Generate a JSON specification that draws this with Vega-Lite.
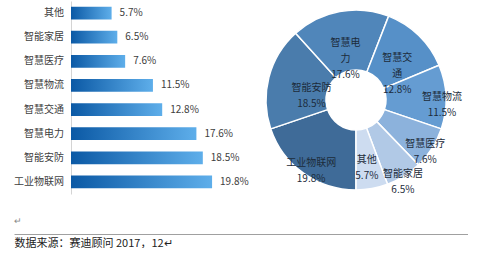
{
  "$schema": "https://vega.github.io/schema/vega-lite/v6.json",
  "padding": {"left": 13, "top": 1, "right": 0, "bottom": 0},
  "background": "white",
  "config": {
    "view": {"stroke": null},
    "font": "Noto Sans CJK SC",
    "text": {"font": "Noto Sans CJK SC"}
  },
  "datasets": {
    "share": [
      {"name": "工业物联网", "value": 19.8, "label": "19.8%", "pieLabel": "工业物联网\n19.8%"},
      {"name": "智能安防", "value": 18.5, "label": "18.5%", "pieLabel": "智能安防\n18.5%"},
      {"name": "智慧电力", "value": 17.6, "label": "17.6%", "pieLabel": "智慧电\n力\n17.6%"},
      {"name": "智慧交通", "value": 12.8, "label": "12.8%", "pieLabel": "智慧交\n通\n12.8%"},
      {"name": "智慧物流", "value": 11.5, "label": "11.5%", "pieLabel": "智慧物流\n11.5%"},
      {"name": "智慧医疗", "value": 7.6, "label": "7.6%", "pieLabel": "智慧医疗\n7.6%"},
      {"name": "智能家居", "value": 6.5, "label": "6.5%", "pieLabel": "智能家居\n6.5%"},
      {"name": "其他", "value": 5.7, "label": "5.7%", "pieLabel": "其他\n5.7%"}
    ],
    "footer": [{"v": 0}]
  },
  "vconcat": [
    {
      "hconcat": [
        {
          "width": 50,
          "height": 193,
          "data": {"name": "share"},
          "mark": {"type": "text", "align": "right", "fontSize": 10, "color": "#404040"},
          "encoding": {
            "y": {
              "field": "name", "type": "nominal", "sort": {"field": "value", "order": "ascending"},
              "scale": {"paddingInner": 0.47, "paddingOuter": 0.235},
              "axis": null
            },
            "x": {"value": "width"},
            "text": {"field": "name"}
          }
        },
        {
          "width": 171,
          "height": 193,
          "data": {"name": "share"},
          "encoding": {
            "y": {
              "field": "name", "type": "nominal", "sort": {"field": "value", "order": "ascending"},
              "scale": {"paddingInner": 0.47, "paddingOuter": 0.235},
              "axis": {"title": null, "ticks": false, "labels": false, "domainColor": "#d4d4d4"}
            },
            "x": {
              "field": "value", "type": "quantitative",
              "scale": {"domain": [0, 24]},
              "axis": null
            }
          },
          "layer": [
            {
              "mark": {
                "type": "bar",
                "color": {
                  "gradient": "linear", "x1": 0, "x2": 1, "y1": 0, "y2": 0,
                  "stops": [{"offset": 0, "color": "#0b59a5"}, {"offset": 1, "color": "#5eaeea"}]
                }
              }
            },
            {
              "mark": {"type": "text", "align": "left", "dx": 8, "fontSize": 10, "color": "#404040"},
              "encoding": {"text": {"field": "label"}}
            }
          ]
        },
        {
          "width": 200,
          "height": 198,
          "data": {"name": "share"},
          "encoding": {
            "theta": {"field": "value", "type": "quantitative", "stack": true, "scale": {"range": [3.14159, 9.42478]}},
            "order": {"field": "value", "sort": "descending"}
          },
          "layer": [
            {
              "mark": {"type": "arc", "outerRadius": 90, "innerRadius": 30, "stroke": "white", "strokeWidth": 1.5},
              "encoding": {
                "color": {
                  "field": "name", "type": "nominal", "legend": null,
                  "scale": {
                    "domain": ["工业物联网", "智能安防", "智慧电力", "智慧交通", "智慧物流", "智慧医疗", "智能家居", "其他"],
                    "range": ["#3f6b98", "#4a7cac", "#5086ba", "#5690c8", "#659cd2", "#8cb2dc", "#b1c9e6", "#cddcf0"]
                  }
                }
              }
            },
            {
              "mark": {"type": "text", "fontSize": 10, "lineBreak": "\n", "lineHeight": 16, "color": "#1c2b3a"},
              "encoding": {
                "text": {"field": "pieLabel"},
                "radius": {
                  "field": "value", "type": "quantitative",
                  "scale": {
                    "type": "linear", "zero": false, "nice": false,
                    "domain": [5.7, 6.5, 7.6, 11.5, 12.8, 17.6, 18.5, 19.8],
                    "range": [61, 88, 82, 86, 59, 58, 46, 77]
                  }
                }
              }
            }
          ]
        }
      ],
      "spacing": 7
    },
    {
      "width": 454,
      "height": 1,
      "data": {"name": "footer"},
      "title": {"text": "↵", "anchor": "start", "fontSize": 9, "color": "#888888", "fontWeight": "normal", "offset": 7},
      "mark": {"type": "tick", "opacity": 0},
      "encoding": {
        "x": {
          "field": "v", "type": "quantitative",
          "scale": {"domain": [0, 1]},
          "axis": {
            "labels": false, "ticks": false, "grid": false, "domainColor": "#a0a0a0", "domainWidth": 1,
            "title": "数据来源：赛迪顾问   2017，12↵", "titleAnchor": "start", "titleAlign": "left",
            "titleFontSize": 11, "titleFontWeight": "normal", "titleColor": "#222222", "titlePadding": 3
          }
        }
      }
    }
  ],
  "spacing": 18
}
